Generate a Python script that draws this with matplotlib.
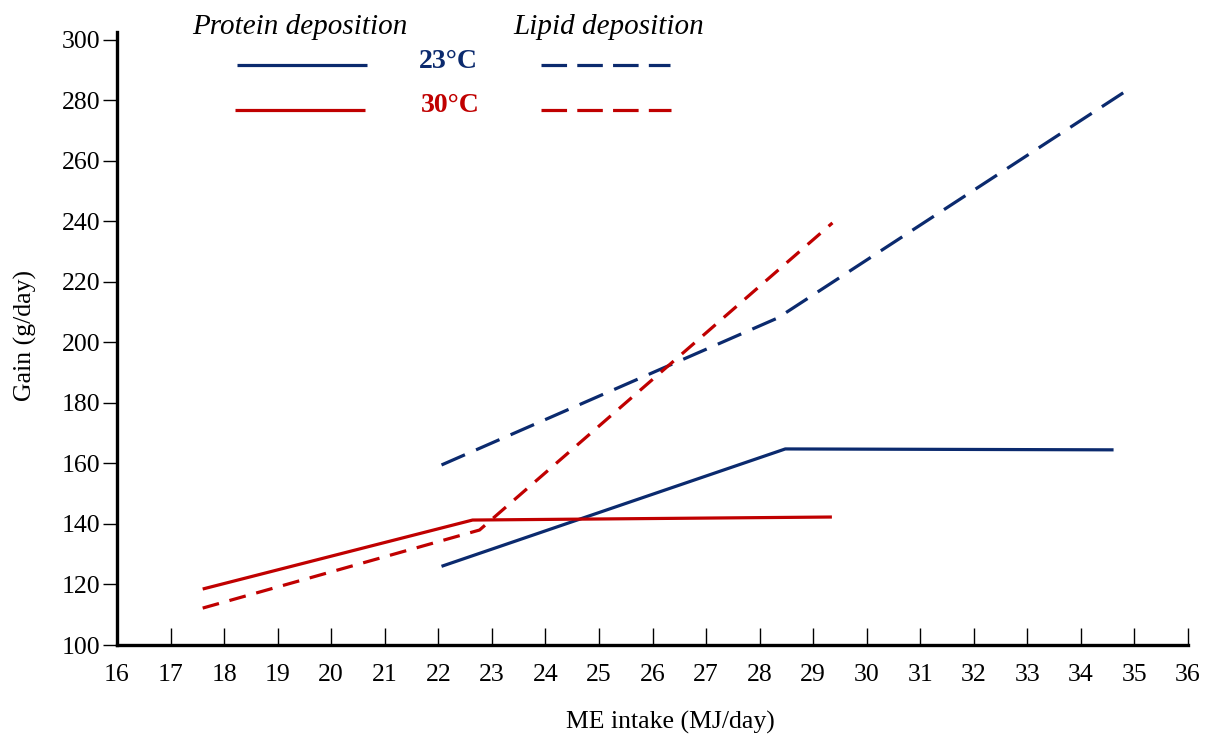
import matplotlib
matplotlib.use("Agg")
import matplotlib.pyplot as plt
from matplotlib.lines import Line2D

# Data
prot23_x = [22.06, 28.48, 34.61]
prot23_y = [126.0, 164.8, 164.5]
lip23_x = [22.06, 28.34, 34.79]
lip23_y = [159.5, 208.1, 282.5]
prot30_x = [17.6, 22.64, 29.35]
prot30_y = [118.5, 141.3, 142.3]
lip30_x = [17.6, 22.77, 29.36]
lip30_y = [112.2, 138.0, 239.5]

x_ticks = list(range(16, 37))
y_ticks = list(range(100, 301, 20))

BLUE = "#0b2a6e"
RED = "#c00000"

plt.rcParams["font.family"] = ["Liberation Serif", "DejaVu Serif"]

fig = plt.figure(figsize=(12.13, 7.42), dpi=100)
ax = fig.add_axes([117 / 1213, 97 / 742, (1188 - 117) / 1213, (645 - 32) / 742])

lw = 2.3
ax.plot(prot23_x, prot23_y, color=BLUE, lw=lw, solid_capstyle="butt")
ax.plot(lip23_x, lip23_y, color=BLUE, lw=lw, dashes=(8, 3.8), dash_capstyle="butt")
ax.plot(prot30_x, prot30_y, color=RED, lw=lw, solid_capstyle="butt")
ax.plot(lip30_x, lip30_y, color=RED, lw=lw, dashes=(5.3, 3.4), dash_capstyle="butt")

ax.set_xlim(16, 36)
ax.set_ylim(100, 302.6)
ax.set_xticks(x_ticks)
ax.set_yticks(y_ticks)
ax.tick_params(axis="x", direction="in", length=12, width=1, labelsize=18.5, pad=14, colors="black")
ax.tick_params(axis="y", direction="out", length=10, width=1, labelsize=18.5, pad=2, colors="black")
for s in ["top", "right"]:
    ax.spines[s].set_visible(False)
for s in ["left", "bottom"]:
    ax.spines[s].set_linewidth(2.4)

fig.text(25 / 1213, 1 - 335 / 742, "Gain (g/day)", rotation=90, ha="center", va="center", fontsize=18.5)
fig.text(670 / 1213, 1 - 722 / 742, "ME intake (MJ/day)", ha="center", va="center", fontsize=18.5)

# Legend
fig.text(300 / 1213, 1 - 27 / 742, "Protein deposition", style="italic", ha="center", va="center", fontsize=21)
fig.text(609 / 1213, 1 - 27 / 742, "Lipid deposition", style="italic", ha="center", va="center", fontsize=21)
fig.text(448 / 1213, 1 - 62 / 742, "23°C", weight="bold", color=BLUE, ha="center", va="center", fontsize=20)
fig.text(450 / 1213, 1 - 105 / 742, "30°C", weight="bold", color=RED, ha="center", va="center", fontsize=20)

def fx(p):
    return p / 1213

def fy(p):
    return 1 - p / 742

fig.add_artist(Line2D([fx(237), fx(367)], [fy(65), fy(65)], color=BLUE, lw=lw, solid_capstyle="butt"))
fig.add_artist(Line2D([fx(235), fx(365)], [fy(110), fy(110)], color=RED, lw=lw, solid_capstyle="butt"))
fig.add_artist(Line2D([fx(541), fx(670)], [fy(65), fy(65)], color=BLUE, lw=lw, dashes=(8, 3.2), dash_capstyle="butt"))
fig.add_artist(Line2D([fx(541), fx(671)], [fy(110), fy(110)], color=RED, lw=lw, dashes=(8, 3.2), dash_capstyle="butt"))

fig.savefig("out.png", dpi=100)
